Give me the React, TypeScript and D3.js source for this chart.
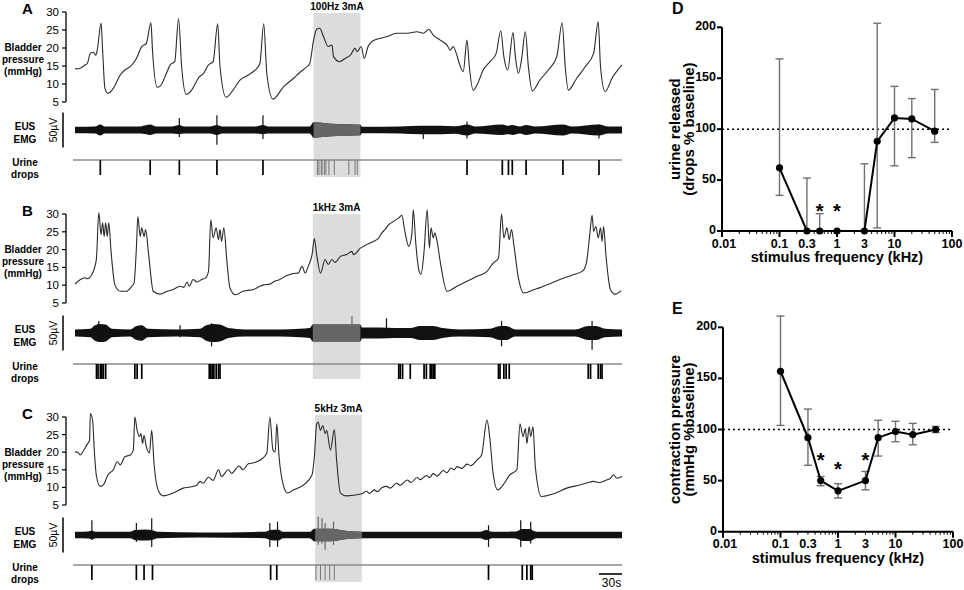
import * as d3 from "d3";

type Pt = [number, number];
type Env = [number, number, number];

// time axis of the traces, in seconds (30 s scale bar)
const traceSeconds = 713;
const pressureTicks = [5, 10, 15, 20, 25, 30];

const pressureA: Pt[] = [
  [0, 14.2], [7, 14.4], [13, 15.3], [16, 15.7], [20, 18.5], [24, 18.8], [27, 18], [29, 19.4],
  [34, 26.9], [36, 19.4], [39, 8.8], [43, 7.4], [50, 8.8], [59, 12.5], [65, 13.9], [72, 14.8],
  [80, 17.1], [87, 20.4], [93, 21.3], [99, 27], [101, 19.4], [107, 9.1], [111, 9.4], [120, 13.4],
  [124, 15.3], [130, 16.2], [135, 28.2], [139, 14.8], [145, 7.1], [152, 8.3], [162, 12],
  [167, 12.8], [174, 15.3], [180, 16.2], [186, 26.7], [189, 14.8], [197, 6.3], [206, 8.3],
  [215, 11.1], [226, 12.5], [235, 13.9], [241, 15.7], [246, 26.7], [250, 13], [258, 5.8],
  [272, 9.3], [285, 11.6], [293, 13.2], [300, 14.4], [306, 15.7], [311, 22.2], [315, 25.2],
  [319, 25.5], [324, 23.1], [330, 20.4], [335, 20.8], [337, 17.6], [345, 16.2], [352, 17.1],
  [359, 18], [365, 19.9], [368, 19], [373, 20.4], [377, 17.1], [382, 20.4], [387, 21.8],
  [398, 22.7], [406, 23.1], [419, 24.1], [433, 24.1], [446, 24.5], [454, 24.1], [461, 25.2],
  [467, 23.6], [476, 22.2], [485, 20.8], [489, 19.4], [493, 20.4], [497, 18.5], [501, 15.7],
  [506, 13.4], [511, 22.2], [514, 14.8], [519, 8.3], [524, 9.7], [532, 13.9], [541, 16.2],
  [549, 18.5], [555, 24.8], [559, 17.6], [564, 13.9], [571, 24.3], [574, 17.6], [578, 13],
  [582, 16.7], [587, 24.5], [591, 14.8], [596, 8.1], [606, 11.1], [617, 13.9], [628, 17.6],
  [635, 27], [639, 14.8], [643, 8.3], [654, 11.6], [665, 14.8], [676, 18.5], [682, 27.3],
  [685, 14.8], [691, 7.9], [700, 11.6], [713, 15.3],
];

const pressureB: Pt[] = [
  [0, 10.3], [7, 11.6], [13, 12.1], [16, 11.8], [22, 13], [26, 15.3], [28, 17.6], [31, 30.4],
  [34, 24.2], [36, 27.5], [38, 23.7], [40, 27.5], [42, 23.7], [44, 27.5], [47, 19.5], [52, 10.1],
  [59, 8.3], [67, 8.3], [74, 9.7], [77, 10.6], [80, 20.4], [82, 29.3], [85, 23.7], [87, 26.1],
  [90, 23.7], [92, 25.6], [96, 18.6], [102, 8.3], [111, 7.5], [120, 8.3], [128, 8.8], [137, 9.7],
  [142, 9.4], [146, 10.9], [149, 9.7], [154, 11.6], [159, 10.9], [165, 11.6], [170, 12],
  [174, 13.9], [177, 28.4], [180, 23.3], [184, 26.1], [187, 22.8], [189, 25.6], [191, 22.3],
  [194, 26.1], [198, 16.7], [202, 9.2], [209, 7.3], [219, 8.3], [233, 8.8], [241, 9.7],
  [246, 10.1], [254, 10.3], [259, 11], [267, 11.6], [274, 12.5], [280, 13], [285, 13.3],
  [291, 13.4], [296, 15.3], [300, 13.4], [304, 15.3], [309, 18.6], [312, 23.1], [315, 18.6],
  [320, 13.4], [326, 17.2], [330, 15.8], [335, 17.2], [339, 16.4], [346, 18.1], [354, 18.6],
  [361, 19.5], [363, 18.6], [372, 20.4], [380, 21.4], [389, 22.3], [396, 23.3], [400, 24.7],
  [404, 25.6], [409, 27], [415, 27.9], [422, 28.9], [426, 29.6], [430, 25.1], [435, 20.9],
  [439, 24.2], [441, 31.2], [444, 22.3], [448, 14.4], [451, 13.1], [455, 19.5], [459, 31.2],
  [462, 20.4], [464, 26.1], [467, 23.3], [469, 24.7], [472, 22.3], [476, 16.7], [485, 8.3],
  [498, 9.7], [511, 11.1], [524, 12.5], [537, 13.9], [545, 16.2], [552, 17.6], [556, 30],
  [559, 23.3], [563, 26.1], [566, 22.8], [569, 25.6], [572, 21.4], [578, 12], [585, 7.8],
  [598, 8.7], [615, 10.1], [632, 11.6], [650, 13], [661, 13.9], [664, 14.6], [667, 16.7],
  [671, 24.2], [674, 29.6], [676, 25.1], [679, 26.5], [682, 23.3], [685, 26.1], [687, 22.3],
  [689, 26.5], [692, 18.6], [698, 8.7], [704, 7.5], [712, 8.5],
];

const pressureC: Pt[] = [
  [0, 20.1], [4, 19.9], [7, 19.2], [11, 20.4], [16, 22.3], [19, 23.4], [20, 31], [23, 29],
  [25, 21.1], [28, 13.1], [33, 10.3], [37, 10.7], [43, 13.6], [50, 15], [55, 17.3], [59, 16.4],
  [65, 18.7], [72, 19.2], [76, 20.6], [78, 30], [81, 26.2], [84, 24.4], [86, 25.3], [88, 22.5],
  [90, 24.8], [93, 21.5], [97, 19.8], [100, 26.2], [103, 16.8], [109, 8.9], [115, 7.6],
  [128, 8.4], [141, 9.8], [150, 10.1], [159, 10.7], [163, 11.7], [167, 11.2], [174, 12.9],
  [180, 12], [187, 15], [191, 13.1], [200, 15], [204, 14], [214, 16.1], [219, 15], [226, 16.7],
  [233, 17], [243, 18], [250, 19.7], [254, 30], [258, 20.6], [261, 20.1], [263, 28.1],
  [266, 18.7], [272, 10.3], [277, 8.4], [285, 9.3], [298, 10.7], [309, 13.6], [312, 18.7],
  [315, 28.1], [317, 28.6], [320, 26.2], [323, 27.6], [326, 25.3], [328, 26.2], [333, 20.6],
  [338, 26.4], [341, 17.8], [346, 8.4], [354, 7.6], [374, 8.2], [380, 8.9], [384, 8.3],
  [390, 9.3], [394, 8.8], [400, 9.9], [406, 10.3], [411, 9.8], [419, 11.2], [424, 10.6],
  [433, 12.1], [438, 11.4], [446, 12.8], [450, 12.2], [458, 13.4], [462, 12.8], [467, 13.9],
  [472, 13.2], [480, 14.8], [485, 14.2], [490, 15.5], [494, 15], [498, 15.9], [504, 15.4],
  [511, 16.6], [516, 16.2], [524, 17.8], [530, 19.2], [537, 29.1], [541, 23.4], [545, 14],
  [551, 9.3], [558, 10.7], [567, 13.6], [576, 15], [580, 28.1], [584, 24.4], [587, 26.7],
  [589, 22.5], [592, 27.2], [594, 24.4], [597, 27.2], [600, 15.9], [608, 7.4], [624, 8.2],
  [641, 9.8], [658, 10.7], [668, 11.3], [676, 11.7], [684, 11.4], [693, 12.1], [698, 12.6],
  [702, 13.6], [706, 12.6], [713, 13.1],
];

// EMG envelope: [time s, upper µV, lower µV]
const emgA: Env[] = [
  [0, 4.5, 4.5], [26, 5, 5], [33, 8, 8], [39, 5, 5], [85, 5, 5], [93, 7, 6], [98, 8, 7],
  [106, 5, 5], [126, 5, 5], [136, 7, 6], [142, 5, 5], [176, 5, 5], [185, 7, 7], [192, 5, 5],
  [235, 5, 5], [245, 7, 6], [252, 5, 5], [306, 5, 5], [311, 11, 11], [333, 9, 9],
  [372, 7.5, 7.5], [374, 4.5, 4.5], [424, 5, 5], [450, 6, 6], [476, 6, 6], [496, 5.5, 5.5],
  [511, 8, 8], [522, 5, 5], [557, 8, 7], [565, 6, 6], [570, 7, 7], [580, 5, 5], [588, 7, 7],
  [600, 5, 5], [636, 8, 8], [648, 5, 5], [683, 8, 8], [695, 5, 5], [713, 5, 5],
];
const emgB: Env[] = [
  [0, 5, 5], [20, 6, 6], [26, 11, 11], [33, 13, 13], [40, 12, 12], [48, 6, 6], [72, 5, 5],
  [80, 10, 10], [87, 11, 11], [95, 6, 6], [134, 5, 5], [163, 6, 6], [171, 11, 11],
  [179, 13, 13], [189, 12, 12], [200, 7, 7], [222, 5, 5], [267, 5, 5], [293, 6, 6],
  [306, 7, 7], [310, 12, 12], [372, 12, 12], [374, 8, 8], [398, 8, 8], [417, 7, 7],
  [437, 7, 7], [450, 10, 10], [466, 10, 10], [479, 7, 7], [502, 5, 5], [541, 6, 6],
  [554, 10, 10], [562, 10, 10], [574, 5, 5], [652, 5, 5], [669, 10, 10], [679, 10, 10],
  [691, 6, 6], [713, 5, 5],
];
const emgC: Env[] = [
  [0, 4.5, 4.5], [17, 5, 5], [22, 6, 6], [27, 4.5, 4.5], [72, 4.5, 4.5], [78, 7, 7], [91, 8, 8],
  [100, 7, 7], [108, 4.5, 4.5], [163, 3.5, 3.5], [248, 4.5, 4.5], [254, 7, 7], [265, 8, 8],
  [271, 4.5, 4.5], [306, 4.5, 4.5], [312, 9, 9], [333, 9, 9], [352, 6, 6], [374, 4.5, 4.5],
  [528, 4.5, 4.5], [536, 7, 7], [544, 4.5, 4.5], [575, 5, 5], [583, 8.5, 8.5], [593, 8.5, 8.5],
  [601, 4.5, 4.5], [713, 4.5, 4.5],
];

// single EMG spikes: [time s, up µV, down µV]
const spikesA: Env[] = [[136, 17, 10], [185, 21, 21], [245, 21, 13], [454, 4, 13], [511, 12, 12], [683, 8, 12]];
const spikesB: Env[] = [[31, 17, 12], [137, 11, 6], [178, 14, 19], [361, 24, 10], [406, 21, 6], [556, 17, 19], [674, 17, 24]];
const spikesC: Env[] = [
  [22, 21, 7], [80, 17, 10], [100, 24, 17], [254, 17, 17], [264, 19, 17], [317, 26, 14],
  [322, 24, 12], [326, 17, 21], [337, 19, 14], [539, 14, 17], [581, 21, 17], [594, 19, 12],
];

// urine drop times (s)
const dropsA = [33, 98, 136, 185, 245, 316, 318, 321, 322, 325, 327, 331, 338, 357, 365, 368, 511, 557, 565, 570, 588, 636, 683];
const dropsB = [28, 30, 33, 35, 37, 40, 78, 81, 87, 175, 177, 179, 181, 184, 187, 189, 422, 424, 427, 437, 455, 458, 463, 465, 467, 469, 552, 554, 559, 562, 566, 669, 672, 682, 685, 687];
const dropsC = [22, 80, 90, 101, 255, 263, 314, 320, 326, 332, 338, 539, 583, 589, 594, 596];

const stimA: Pt = [311, 372];
const stimB: Pt = [310, 372];
const stimC: Pt = [313, 374];

// summary panels
const frequencies = [0.1, 0.3, 0.5, 1, 3, 5, 10, 20, 50];
const freqTicks = [0.01, 0.1, 0.3, 1, 3, 10, 100];
const percentTicks = [0, 50, 100, 150, 200];
const urineMedian = [62, 0, 0, 0, 0, 88, 111, 110, 98];
const urineLow = [35, 0, 0, 0, 0, 3, 64, 72, 87];
const urineHigh = [169, 52, 17, 0, 66, 204, 142, 130, 139];
const urineStars: Pt[] = [[0.5, 24], [1, 24]];
const contractionMean = [157, 92, 50, 40, 50, 92, 98, 95, 100];
const contractionLow = [104, 65, 45, 33, 41, 74, 88, 85, 97];
const contractionHigh = [211, 120, 54, 47, 59, 109, 108, 106, 103];
const contractionStars: Pt[] = [[0.5, 74], [1, 65], [3, 74]];

const FONT = "Arial, 'Liberation Sans', sans-serif";
const xTime = d3.scaleLinear().domain([0, traceSeconds]).range([75, 622]);

type TraceProps = {
  letter: string;
  stimLabel: string;
  stim: Pt;
  pressure: Pt[];
  emg: Env[];
  spikes: Env[];
  drops: number[];
  top: number;
  bottom: number;
  emgY: number;
  dropY: number;
  shadeTop: number;
  shadeBottom: number;
  showBar?: boolean;
};

const TracePanel = (p: TraceProps) => {
  const y = d3.scaleLinear().domain([5, 30]).range([p.bottom, p.top]);
  const uv = d3.scaleLinear().domain([-25, 25]).range([p.emgY + 17.5, p.emgY - 17.5]);
  const line = d3
    .line<Pt>()
    .x((d) => xTime(d[0]))
    .y((d) => y(d[1]))
    .curve(d3.curveMonotoneX);
  const area = d3
    .area<Env>()
    .x((d) => xTime(d[0]))
    .y0((d) => uv(-d[2]))
    .y1((d) => uv(d[1]))
    .curve(d3.curveMonotoneX);
  const clipId = `stim-${p.letter}`;
  const inStim = (t: number) => t >= p.stim[0] && t <= p.stim[1];
  const sx0 = xTime(p.stim[0]);
  const sx1 = xTime(p.stim[1]);
  return (
    <g>
      <defs>
        <clipPath id={clipId}>
          <rect x={sx0} y={p.emgY - 30} width={sx1 - sx0} height={60} />
        </clipPath>
      </defs>
      <rect x={sx0} y={p.shadeTop} width={sx1 - sx0} height={p.shadeBottom - p.shadeTop} fill="#dcdcdc" />
      <text x={(sx0 + sx1) / 2} y={p.shadeTop - 3} fontSize={10} fontWeight="bold" textAnchor="middle">
        {p.stimLabel}
      </text>
      <text x={22} y={p.top + 2} fontSize={15} fontWeight="bold">{p.letter}</text>

      {/* pressure axis */}
      <line x1={66} x2={66} y1={y(30)} y2={y(5)} stroke="#000" strokeWidth={1.3} />
      {pressureTicks.map((t) => (
        <g key={t}>
          <line x1={62} x2={66} y1={y(t)} y2={y(t)} stroke="#000" strokeWidth={1.2} />
          <text x={59} y={y(t) + 4} fontSize={11.5} textAnchor="end">{t}</text>
        </g>
      ))}
      <g fontSize={10} fontWeight="bold" textAnchor="middle">
        <text x={23} y={p.top + 39}>Bladder</text>
        <text x={23} y={p.top + 51}>pressure</text>
        <text x={23} y={p.top + 63}>(mmHg)</text>
        <text x={25} y={p.emgY}>EUS</text>
        <text x={25} y={p.emgY + 13}>EMG</text>
        <text x={25} y={p.dropY + 6}>Urine</text>
        <text x={25} y={p.dropY + 18}>drops</text>
      </g>
      <path d={line(p.pressure) ?? ""} fill="none" stroke="#2a2a2a" strokeWidth={1.1} strokeLinejoin="round" />

      {/* EMG */}
      <line x1={63} x2={63} y1={uv(25)} y2={uv(-25)} stroke="#000" strokeWidth={1.5} />
      <text transform={`translate(57,${p.emgY}) rotate(-90)`} fontSize={10.5} textAnchor="middle">50µV</text>
      <path d={area(p.emg) ?? ""} fill="#111" />
      <path d={area(p.emg) ?? ""} fill="#666" clipPath={`url(#${clipId})`} />
      {p.spikes.map((s, i) => (
        <line
          key={i}
          x1={xTime(s[0])}
          x2={xTime(s[0])}
          y1={uv(s[1])}
          y2={uv(-s[2])}
          stroke={inStim(s[0]) ? "#666" : "#111"}
          strokeWidth={1.2}
        />
      ))}

      {/* urine drops */}
      <line x1={73} x2={622} y1={p.dropY} y2={p.dropY} stroke="#8a8a8a" strokeWidth={1.5} />
      {p.drops.map((t, i) => (
        <line
          key={i}
          x1={xTime(t)}
          x2={xTime(t)}
          y1={p.dropY}
          y2={p.dropY + 15}
          stroke={inStim(t) ? "#777" : "#000"}
          strokeWidth={inStim(t) ? 1 : 1.7}
        />
      ))}
      {p.showBar && (
        <g>
          <line x1={xTime(traceSeconds - 30)} x2={xTime(traceSeconds)} y1={574} y2={574} stroke="#000" strokeWidth={1.6} />
          <text x={(xTime(traceSeconds - 30) + xTime(traceSeconds)) / 2 + 1} y={587} fontSize={12} textAnchor="middle">30s</text>
        </g>
      )}
    </g>
  );
};

type SummaryProps = {
  letter: string;
  label1: string;
  label2: string;
  values: number[];
  low: number[];
  high: number[];
  stars: Pt[];
  left: number;
  right: number;
  top: number;
  bottom: number;
};

const SummaryPanel = (p: SummaryProps) => {
  const x = d3.scaleLog().domain([0.01, 100]).range([p.left, p.right]);
  const y = d3.scaleLinear().domain([0, 200]).range([p.bottom, p.top]);
  const pts: Pt[] = frequencies.map((f, i) => [f, p.values[i]]);
  const line = d3.line<Pt>().x((d) => x(d[0])).y((d) => y(d[1]));
  const minor: number[] = [];
  [0.01, 0.1, 1, 10].forEach((dec) => {
    for (let k = 2; k <= 9; k++) minor.push(dec * k);
  });
  const midY = (p.top + p.bottom) / 2;
  return (
    <g fontFamily={FONT}>
      <text x={672} y={p.top - 13} fontSize={16} fontWeight="bold">{p.letter}</text>
      <g fontSize={15} fontWeight="bold" textAnchor="middle">
        <text transform={`translate(680,${midY}) rotate(-90)`}>{p.label1}</text>
        <text transform={`translate(694,${midY}) rotate(-90)`}>{p.label2}</text>
      </g>
      <text x={(p.left + p.right) / 2} y={p.bottom + 31} fontSize={14.5} fontWeight="bold" textAnchor="middle">
        stimulus frequency (kHz)
      </text>

      <line x1={x(0.01)} x2={x(100)} y1={y(100)} y2={y(100)} stroke="#000" strokeWidth={1.5} strokeDasharray="2,3" />

      {frequencies.map((f, i) => {
        const cx = x(f);
        const v = p.values[i];
        return (
          <g key={f} stroke="#707070" strokeWidth={1.4}>
            {p.high[i] > v && (
              <>
                <line x1={cx} x2={cx} y1={y(v)} y2={y(p.high[i])} />
                <line x1={cx - 4} x2={cx + 4} y1={y(p.high[i])} y2={y(p.high[i])} />
              </>
            )}
            {p.low[i] < v && (
              <>
                <line x1={cx} x2={cx} y1={y(v)} y2={y(p.low[i])} />
                <line x1={cx - 4} x2={cx + 4} y1={y(p.low[i])} y2={y(p.low[i])} />
              </>
            )}
          </g>
        );
      })}
      <path d={line(pts) ?? ""} fill="none" stroke="#000" strokeWidth={2} />
      {pts.map((d) => (
        <circle key={d[0]} cx={x(d[0])} cy={y(d[1])} r={3.6} fill="#000" />
      ))}
      {p.stars.map((s) => (
        <text key={s[0]} x={x(s[0])} y={y(s[1]) + 11} fontSize={20} fontWeight="bold" textAnchor="middle">*</text>
      ))}

      {/* axes */}
      <line x1={p.left} x2={p.left} y1={y(0)} y2={y(200)} stroke="#000" strokeWidth={2} />
      {percentTicks.map((t) => (
        <g key={t}>
          <line x1={p.left - 5} x2={p.left} y1={y(t)} y2={y(t)} stroke="#000" strokeWidth={2} />
          <text x={p.left - 6} y={y(t) + 3} fontSize={12.5} fontWeight="bold" textAnchor="end">{t}</text>
        </g>
      ))}
      <line x1={x(0.01)} x2={x(100)} y1={y(0)} y2={y(0)} stroke="#000" strokeWidth={2} />
      {[0.01, 0.1, 1, 10, 100].map((t) => (
        <line key={t} x1={x(t)} x2={x(t)} y1={y(0)} y2={y(0) + 6} stroke="#000" strokeWidth={2} />
      ))}
      {minor.map((t) => (
        <line key={t} x1={x(t)} x2={x(t)} y1={y(0)} y2={y(0) + 3} stroke="#000" strokeWidth={1} />
      ))}
      {freqTicks.map((t) => (
        <text key={t} x={x(t) + (t === 0.01 ? 2 : 0)} y={y(0) + 16.5} fontSize={12.5} fontWeight="bold" textAnchor="middle">{t}</text>
      ))}
    </g>
  );
};

export default function App() {
  return (
    <svg width={964} height={590} style={{ position: "absolute", left: 0, top: 0, background: "#fff" }} fontFamily={FONT}>
      <TracePanel letter="A" stimLabel="100Hz 3mA" stim={stimA} pressure={pressureA} emg={emgA} spikes={spikesA}
        drops={dropsA} top={12} bottom={102} emgY={130} dropY={160} shadeTop={13} shadeBottom={177} />
      <TracePanel letter="B" stimLabel="1kHz 3mA" stim={stimB} pressure={pressureB} emg={emgB} spikes={spikesB}
        drops={dropsB} top={214} bottom={303} emgY={333} dropY={364} shadeTop={214} shadeBottom={379} />
      <TracePanel letter="C" stimLabel="5kHz 3mA" stim={stimC} pressure={pressureC} emg={emgC} spikes={spikesC}
        drops={dropsC} top={417} bottom={505} emgY={535} dropY={565} shadeTop={415} shadeBottom={582} showBar />
      <SummaryPanel letter="D" label1="urine released" label2="(drops % baseline)" values={urineMedian}
        low={urineLow} high={urineHigh} stars={urineStars} left={722} right={952} top={27.3} bottom={231} />
      <SummaryPanel letter="E" label1="contraction pressure" label2="(mmHg %baseline)" values={contractionMean}
        low={contractionLow} high={contractionHigh} stars={contractionStars} left={723} right={953} top={327.3} bottom={531.7} />
    </svg>
  );
}
